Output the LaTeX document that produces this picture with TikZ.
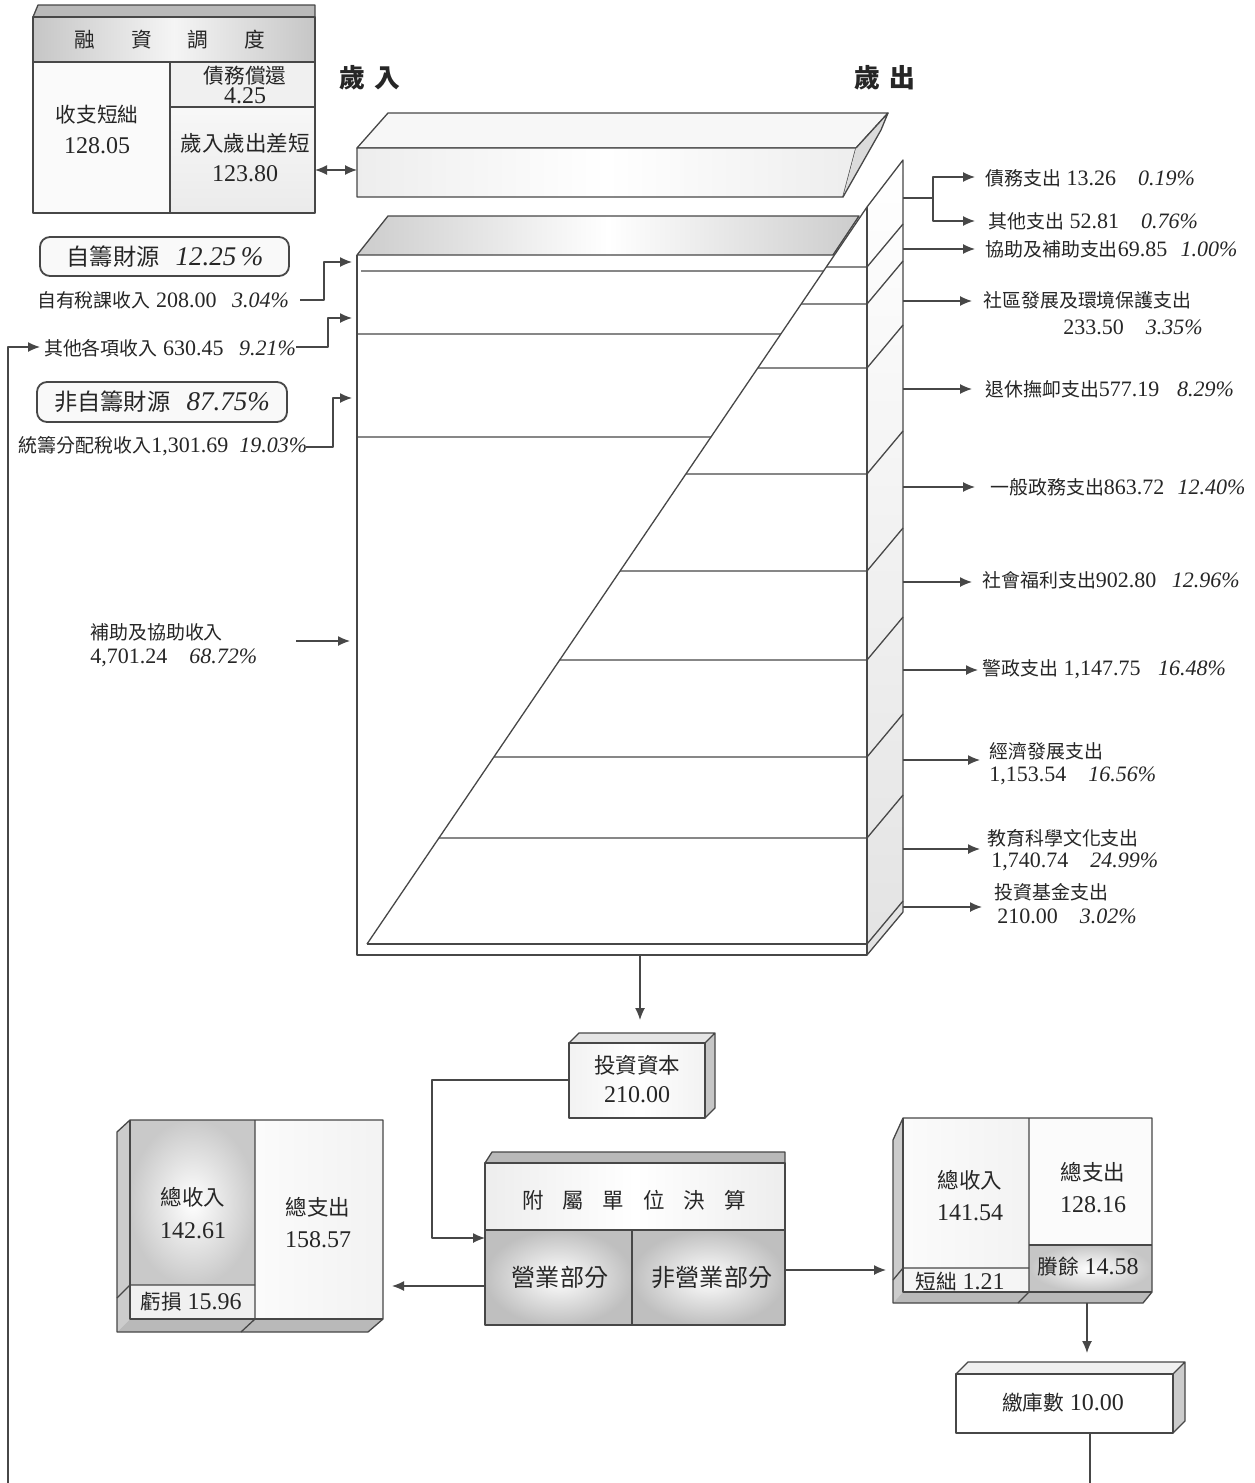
\documentclass[tikz,border=0pt]{standalone}
\usepackage{fontspec}
\setmainfont{Liberation Serif}
\newfontfamily\cjk{Noto Sans CJK TC}[Scale=0.86]
\usetikzlibrary{arrows.meta,calc}
\newcommand\C[1]{{\cjk #1}}
\newcommand\pc[1]{\textit{#1\%}}
\newcommand\fsz[1]{\fontsize{#1pt}{#1pt}\selectfont}
\tikzset{
  ln/.style={draw=black!72, line width=0.65pt, line join=round},
  arr/.style={ln, -{Latex[length=6pt,width=5pt]}},
  darr/.style={ln, {Latex[length=6pt,width=5pt]}-{Latex[length=6pt,width=5pt]}},
  txt/.style={inner sep=0pt, align=center, text=black!85},
  lab/.style={inner sep=0pt, anchor=west, text=black!85, font=\fsz{11}},
}
\begin{document}
\begin{tikzpicture}[x=0.5pt,y=-0.5pt]
\useasboundingbox[fill=white] (0,0) rectangle (1254,1483);

% ---------------- financing box ----------------
\fill[gray!55] (33,17) -- (38,5) -- (315,5) -- (315,17) -- cycle;
\draw[ln] (33,17) -- (38,5) -- (315,5) -- (315,17);
\shade[left color=gray!45,right color=gray!45,middle color=gray!8] (33,17) rectangle (315,62);
\fill[gray!4] (33,62) rectangle (315,213);
\fill[gray!12] (170,62) rectangle (315,107);
\shade[top color=gray!6, bottom color=gray!16] (170,107) rectangle (315,213);
\draw[ln] (33,17) rectangle (315,213);
\draw[ln] (33,62) -- (315,62) (170,62) -- (170,213) (170,107) -- (315,107);
\node[txt,font=\fsz{12}] (fint) at (170,40) {\C{融\hspace{18pt}資\hspace{18pt}調\hspace{18pt}度}};
\node[txt,font=\fsz{12}] (fin1) at (97,115) {\C{收支短絀}};
\node[txt,font=\fsz{12}] (fin2) at (97,146) {128.05};
\node[txt,font=\fsz{12}] (fin3) at (245,76) {\C{債務償還}};
\node[txt,font=\fsz{12}] (fin4) at (245,96) {4.25};
\node[txt,font=\fsz{12.5}] (fin5) at (245,143) {\C{歲入歲出差短}};
\node[txt,font=\fsz{12}] (fin6) at (245,174) {123.80};
\coordinate (fine) at (315,170);
\coordinate (slabw) at (357,170);
\draw[darr] (fine) -- (slabw);

% ---------------- headings ----------------
\node[txt,font=\fsz{15}\bfseries] (hin) at (370,78) {\C{歲\hspace{5pt}入}};
\node[txt,font=\fsz{15}\bfseries] (hout) at (885,78) {\C{歲\hspace{5pt}出}};

% ---------------- slab ----------------
\fill[gray!6] (357,148) -- (388,113) -- (888,113) -- (856,148) -- cycle;
\draw[ln] (357,148) -- (388,113) -- (888,113) -- (856,148) -- cycle;
\shade[left color=gray!14,right color=gray!14,middle color=white] (357,148) -- (856,148) -- (843,197) -- (357,197) -- cycle;
\draw[ln] (357,148) -- (856,148) -- (843,197) -- (357,197) -- cycle;
\fill[gray!28] (856,148) -- (888,113) -- (881,130) -- (843,197) -- cycle;
\draw[ln] (856,148) -- (888,113) -- (881,130) -- (843,197);

% ---------------- main box ----------------
\shade[top color=white, bottom color=gray!22] (867,207) -- (903,160) -- (903,912) -- (867,955) -- cycle;
\draw[ln] (867,207) -- (903,160) -- (903,912) -- (867,955);
\foreach \yy in {267,304,368,474,571,660,757,838,944}
  \draw[ln] (867,\yy) -- (903,\yy-43);
\fill[white] (357,255) -- (833,255) -- (867,207) -- (867,955) -- (357,955) -- cycle;
\shade[left color=gray!40,right color=gray!40,middle color=white] (357,255) -- (388,216) -- (859,216) -- (833,255) -- cycle;
\draw[ln] (357,255) -- (388,216) -- (859,216) -- (833,255) -- cycle;
\draw[ln] (357,255) -- (357,955) -- (867,955) -- (867,207);
\coordinate (dtop) at (867,207);
\coordinate (dbot) at (367,944);
\draw[ln] (dtop) -- (dbot);
% revenue lines
\draw[ln] (361,271) -- ($(dtop)!{(271-207)/737}!(dbot)$);
\foreach \yy in {334,437}
  \draw[ln] (357,\yy) -- ($(dtop)!{(\yy-207)/737}!(dbot)$);
% expenditure lines
\foreach \yy in {267,304,368,474,571,660,757,838,944}
  \draw[ln] ($(dtop)!{(\yy-207)/737}!(dbot)$) -- (867,\yy);

% ---------------- right labels ----------------
\node[lab] (r1) at (985,178) {\C{債務支出} 13.26\hspace{1em}\pc{0.19}};
\node[lab] (r2) at (988,221) {\C{其他支出} 52.81\hspace{1em}\pc{0.76}};
\node[lab] (r3) at (985,249) {\C{協助及補助支出}69.85\hspace{0.6em}\pc{1.00}};
\node[lab] (r4a) at (983,300) {\C{社區發展及環境保護支出}};
\node[lab] (r4b) at (1063,327) {233.50\hspace{1em}\pc{3.35}};
\node[lab] (r5) at (985,389) {\C{退休撫卹支出}577.19\hspace{0.8em}\pc{8.29}};
\node[lab] (r6) at (990,487) {\C{一般政務支出}863.72\hspace{0.6em}\pc{12.40}};
\node[lab] (r7) at (982,580) {\C{社會福利支出}902.80\hspace{0.7em}\pc{12.96}};
\node[lab] (r8) at (982,669) {\C{警政支出} 1,147.75\hspace{0.8em}\pc{16.48}};
\node[lab] (r9a) at (989,751) {\C{經濟發展支出}};
\node[lab] (r9b) at (989,776) {1,153.54\hspace{1em}\pc{16.56}};
\node[lab] (r10a) at (987,838) {\C{教育科學文化支出}};
\node[lab] (r10b) at (991,862) {1,740.74\hspace{1em}\pc{24.99}};
\node[lab] (r11a) at (994,892) {\C{投資基金支出}};
\node[lab] (r11b) at (997,916) {210.00\hspace{1em}\pc{3.02}};

\coordinate (sbr) at (903,198);
\coordinate (br) at (933,198);
\coordinate (t1) at (975,177);
\coordinate (t2) at (975,221);
\draw[ln] (sbr) -- (br);
\draw[arr] (br) |- (t1);
\draw[arr] (br) |- (t2);
\foreach \n/\yy/\tx in {3/249/975,4/301/972,5/389/972,6/487/975,7/582/972,8/670/978,9/760/980,10/849/980,11/907/982}{
  \coordinate (s\n) at (903,\yy);
  \coordinate (t\n) at (\tx,\yy);
  \draw[arr] (s\n) -- (t\n);
}

% ---------------- left labels ----------------
\draw[ln, line width=0.9pt, rounded corners=5pt, fill=gray!5] (40,237) rectangle (289,276);
\node[txt,font=\fsz{13.5}] (L1) at (165,257) {\C{自籌財源}\hspace{0.6em}\textit{12.25\,\%}};
\node[txt,font=\fsz{11}] (L2) at (163,300) {\C{自有稅課收入} 208.00\hspace{0.7em}\pc{3.04}};
\node[txt,font=\fsz{11}] (L3) at (170,348) {\C{其他各項收入} 630.45\hspace{0.7em}\pc{9.21}};
\draw[ln, line width=0.9pt, rounded corners=5pt, fill=gray!5] (37,382) rectangle (287,422);
\node[txt,font=\fsz{13.5}] (L4) at (162,402) {\C{非自籌財源}\hspace{0.6em}\pc{87.75}};
\node[txt,font=\fsz{11}] (L5) at (163,446) {\C{統籌分配稅收入}1,301.69\hspace{0.5em}\pc{19.03}};
\node[lab] (L6a) at (90,632) {\C{補助及協助收入}};
\node[lab] (L6b) at (90,658) {4,701.24\hspace{1em}\pc{68.72}};

\coordinate (a2) at (300,300); \coordinate (e2) at (352,262);
\coordinate (a3) at (296,347); \coordinate (e3) at (352,318);
\coordinate (a5) at (306,447); \coordinate (e5) at (352,398);
\coordinate (a6) at (296,641); \coordinate (e6) at (350,641);
\draw[arr] (a2) -- (324,300) |- (e2);
\draw[arr] (a3) -- (328,347) |- (e3);
\draw[arr] (a5) -- (333,447) |- (e5);
\draw[arr] (a6) -- (e6);
\coordinate (loopb) at (8,1483);
\coordinate (loopt) at (40,347);
\draw[arr] (loopb) |- (loopt);

% ---------------- investment capital ----------------
\coordinate (mb) at (640,955);
\coordinate (invn) at (640,1020);
\draw[arr] (mb) -- (invn);
\fill[gray!20] (569,1043) -- (579,1033) -- (715,1033) -- (705,1043) -- cycle;
\fill[gray!45] (705,1043) -- (715,1033) -- (715,1108) -- (705,1118) -- cycle;
\shade[left color=gray!10,right color=gray!10,middle color=white] (569,1043) rectangle (705,1118);
\draw[ln] (569,1043) -- (579,1033) -- (715,1033) -- (705,1043) (715,1033) -- (715,1108) -- (705,1118);
\draw[ln] (569,1043) rectangle (705,1118);
\node[txt,font=\fsz{12.5}] (inv1) at (637,1065) {\C{投資資本}};
\node[txt,font=\fsz{12}] (inv2) at (637,1095) {210.00};
\coordinate (invw) at (569,1080);
\coordinate (subw) at (485,1238);
\draw[arr] (invw) -- (432,1080) |- (subw);

% ---------------- subsidiary units box ----------------
\fill[gray!55] (485,1163) -- (492,1152) -- (785,1152) -- (785,1163) -- cycle;
\draw[ln] (485,1163) -- (492,1152) -- (785,1152) -- (785,1163);
\shade[left color=gray!14,right color=gray!14,middle color=white] (485,1163) rectangle (785,1230);
\shade[inner color=white, outer color=gray!50] (485,1230) rectangle (632,1325);
\shade[inner color=white, outer color=gray!50] (632,1230) rectangle (785,1325);
\draw[ln] (485,1163) rectangle (785,1325);
\draw[ln] (485,1230) -- (785,1230) (632,1230) -- (632,1325);
\node[txt,font=\fsz{12.5}] (sub1) at (634,1200) {\C{附\hspace{9.5pt}屬\hspace{9.5pt}單\hspace{9.5pt}位\hspace{9.5pt}決\hspace{9.5pt}算}};
\node[txt,font=\fsz{14}] (sub2) at (560,1277) {\C{營業部分}};
\node[txt,font=\fsz{14}] (sub3) at (712,1277) {\C{非營業部分}};

% ---------------- left result box ----------------
\coordinate (sublw) at (485,1286);
\coordinate (lbe) at (392,1286);
\draw[arr] (sublw) -- (lbe);
\fill[gray!40] (117,1132) -- (130,1120) -- (130,1319) -- (117,1332) -- cycle;
\fill[gray!55] (130,1319) -- (383,1319) -- (368,1332) -- (117,1332) -- cycle;
\shade[inner color=white, outer color=gray!42] (130,1120) rectangle (255,1285);
\fill[gray!12] (130,1285) rectangle (255,1319);
\shade[left color=gray!3,right color=gray!10] (255,1120) rectangle (383,1319);
\draw[ln] (117,1132) -- (130,1120) -- (383,1120) -- (383,1319) -- (368,1332) -- (117,1332) -- cycle;
\draw[ln] (130,1120) -- (130,1319) -- (383,1319);
\draw[ln] (255,1120) -- (255,1319) -- (241,1332);
\draw[ln] (117,1298) -- (130,1285) -- (255,1285);
\node[txt,font=\fsz{12.5}] (lb1) at (193,1197) {\C{總收入}};
\node[txt,font=\fsz{12}] (lb2) at (193,1231) {142.61};
\node[txt,font=\fsz{12.5}] (lb3) at (318,1207) {\C{總支出}};
\node[txt,font=\fsz{12}] (lb4) at (318,1240) {158.57};
\node[txt,font=\fsz{12}] (lb5) at (191,1302) {\C{虧損} 15.96};

% ---------------- right result box ----------------
\coordinate (sube) at (785,1270);
\coordinate (rbw) at (886,1270);
\draw[arr] (sube) -- (rbw);
\fill[gray!40] (893,1140) -- (903,1118) -- (903,1292) -- (893,1303) -- cycle;
\fill[gray!55] (903,1292) -- (1152,1292) -- (1143,1303) -- (893,1303) -- cycle;
\shade[left color=gray!3,right color=gray!10] (903,1118) rectangle (1029,1268);
\fill[gray!8] (903,1268) rectangle (1029,1292);
\fill[gray!3] (1029,1118) rectangle (1152,1245);
\shade[inner color=white, outer color=gray!45] (1029,1245) rectangle (1152,1292);
\draw[ln] (893,1140) -- (903,1118) -- (1152,1118) -- (1152,1292) -- (1143,1303) -- (893,1303) -- cycle;
\draw[ln] (903,1118) -- (903,1292) -- (1152,1292);
\draw[ln] (1029,1118) -- (1029,1292) -- (1018,1303);
\draw[ln] (893,1280) -- (903,1268) -- (1029,1268);
\draw[ln] (1029,1245) -- (1152,1245);
\node[txt,font=\fsz{12.5}] (rb1) at (970,1180) {\C{總收入}};
\node[txt,font=\fsz{12}] (rb2) at (970,1213) {141.54};
\node[txt,font=\fsz{12.5}] (rb3) at (1093,1172) {\C{總支出}};
\node[txt,font=\fsz{12}] (rb4) at (1093,1205) {128.16};
\node[txt,font=\fsz{12}] (rb5) at (960,1281) {\C{短絀} 1.21};
\node[txt,font=\fsz{12}] (rb6) at (1088,1267) {\C{賸餘} 14.58};

% ---------------- treasury ----------------
\coordinate (rbs) at (1087,1303);
\coordinate (trn) at (1087,1353);
\draw[arr] (rbs) -- (trn);
\fill[gray!12] (956,1374) -- (968,1362) -- (1185,1362) -- (1173,1374) -- cycle;
\fill[gray!40] (1173,1374) -- (1185,1362) -- (1185,1421) -- (1173,1433) -- cycle;
\fill[white] (956,1374) rectangle (1173,1433);
\draw[ln] (956,1374) -- (968,1362) -- (1185,1362) -- (1173,1374) (1185,1362) -- (1185,1421) -- (1173,1433);
\draw[ln] (956,1374) rectangle (1173,1433);
\node[txt,font=\fsz{12}] (tr) at (1063,1403) {\C{繳庫數} 10.00};
\coordinate (trs) at (1090,1433);
\coordinate (trb) at (1090,1483);
\draw[ln] (trs) -- (trb);

\end{tikzpicture}
\end{document}
